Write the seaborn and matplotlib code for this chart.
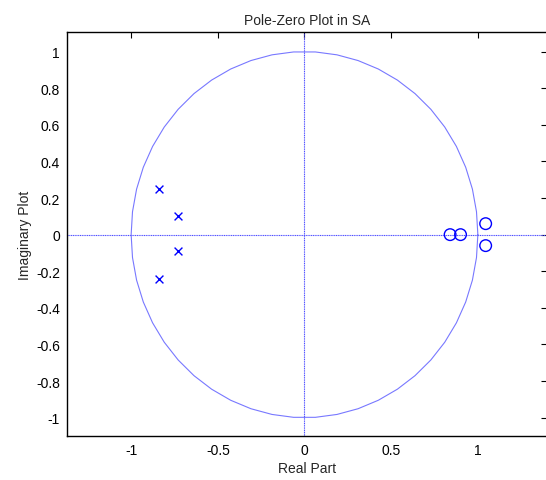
import numpy as np
import pandas as pd
import matplotlib
matplotlib.use('Agg')
import matplotlib.pyplot as plt
import seaborn as sns

sns.set_style('white')
plt.rcParams['font.family'] = ['Liberation Sans', 'DejaVu Sans']

# poles and zeros
pole_re = [-0.84, -0.73, -0.73, -0.84]
pole_im = [0.25, 0.10, -0.09, -0.245]
zero_re = [0.84, 0.90, 1.045, 1.045]
zero_im = [0.0, 0.0, 0.06, -0.06]

x_ticks = [-1, -0.5, 0, 0.5, 1]
y_ticks = [-1, -0.8, -0.6, -0.4, -0.2, 0, 0.2, 0.4, 0.6, 0.8, 1]

poles = pd.DataFrame({'re': pole_re, 'im': pole_im})
zeros = pd.DataFrame({'re': zero_re, 'im': zero_im})

fig = plt.figure(figsize=(5.46, 4.81), dpi=100)
ax = fig.add_axes([0.1227, 0.0915, 0.8795, 0.8395])

# unit circle, coarse like matlab's zplane
t = np.linspace(0, 2 * np.pi, 51)
ax.plot(np.cos(t), np.sin(t), color='#7878ff', lw=0.8)
ax.axhline(0, color='#5050ff', lw=0.8, ls=(0, (1, 0.6)))
ax.axvline(0, color='#5050ff', lw=0.8, ls=(0, (1, 0.6)))

sns.scatterplot(data=poles, x='re', y='im', marker='x', color='#0000ff',
                s=32, linewidth=1.0, ax=ax, zorder=3)
sns.scatterplot(data=zeros, x='re', y='im', marker='o', facecolor='none',
                edgecolor='#0000ff', s=70, linewidth=1.0, ax=ax, zorder=3)

ax.set_xlim(-1.37, 1.40)
ax.set_ylim(-1.1, 1.106)
ax.set_xticks(x_ticks)
ax.set_xticklabels(['-1', '-0.5', '0', '0.5', '1'])
ax.set_yticks(y_ticks)
ax.set_yticklabels(['-1', '-0.8', '-0.6', '-0.4', '-0.2', '0', '0.2', '0.4', '0.6', '0.8', '1'])
ax.tick_params(direction='in', top=True, right=True, length=4, width=0.8,
               labelsize=10, colors='black', pad=5)
for sp in ax.spines.values():
    sp.set_color('black')
    sp.set_linewidth(1.0)

ax.set_xlabel('Real Part', fontsize=10, labelpad=3)
ax.set_ylabel('Imaginary Plot', fontsize=10, labelpad=3)
ax.set_title('Pole-Zero Plot in SA', fontsize=10, pad=6)

fig.savefig('out.png', dpi=100)
